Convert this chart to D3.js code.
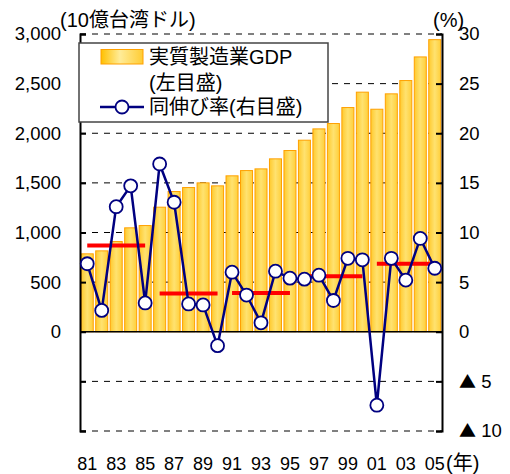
<html>
<meta charset="utf-8">
<style>
body { margin: 0; background: #fff; }
text { font-family: "Liberation Sans", "Noto Sans CJK JP", sans-serif; font-size: 18.5px; fill: #000; }
.big { font-size: 20px; }
.grid { stroke: #000; stroke-width: 1; stroke-dasharray: 6,6; }
.axis path, .axis line { stroke: #000; stroke-width: 2; }
</style>
<body>
<script src="https://d3js.org/d3.v7.min.js"></script>
<script>

// data
var years = ["81","82","83","84","85","86","87","88","89","90","91","92","93","94","95",
             "96","97","98","99","00","01","02","03","04","05"];
var gdp = [785, 815, 909, 1047, 1070, 1255, 1413, 1453, 1500, 1470, 1571, 1624, 1641, 1742, 1826,
           1930, 2044, 2098, 2259, 2414, 2242, 2397, 2531, 2769, 2943];
var growth = [6.85, 2.15, 12.6, 14.7, 2.9, 16.9, 13.05, 2.8, 2.7, -1.4, 6.0, 3.7, 0.9, 6.1, 5.4,
              5.3, 5.7, 3.15, 7.4, 7.25, -7.4, 7.4, 5.2, 9.4, 6.4];
// period averages (red bars)
var avgFrom = ["81", "86", "91", "96", "01"];
var avgTo   = ["85", "90", "95", "00", "05"];
var avgVal  = [8.7, 3.85, 3.9, 5.6, 6.85];

var leftTicks = [-1000, -500, 0, 500, 1000, 1500, 2000, 2500, 3000];
var rightTicks = [-10, -5, 0, 5, 10, 15, 20, 25, 30];
var xLabels = ["81","83","85","87","89","91","93","95","97","99","01","03","05"];

var W = 510, H = 474;
var pLeft = 80, pRight = 442, pTop = 34, pBottom = 431;

var svg = d3.select("body").append("svg")
    .attr("width", W)
    .attr("height", H);

var x = d3.scaleBand().domain(years).range([pLeft, pRight])
    .paddingInner(0.17).paddingOuter(0.085);
var yL = d3.scaleLinear().domain([-1000, 3000]).range([pBottom, pTop]);
var yR = d3.scaleLinear().domain([-10, 30]).range([pBottom, pTop]);

// gradients for the bars
var defs = svg.append("defs");
var g1 = defs.append("linearGradient").attr("id", "barGrad")
    .attr("x1", "0%").attr("x2", "100%").attr("y1", "0%").attr("y2", "0%");
g1.append("stop").attr("offset", "0%").attr("stop-color", "#ffca2e");
g1.append("stop").attr("offset", "50%").attr("stop-color", "#ffe270");
g1.append("stop").attr("offset", "100%").attr("stop-color", "#ffcf3a");
var g2 = defs.append("linearGradient").attr("id", "legGrad")
    .attr("x1", "0%").attr("x2", "100%").attr("y1", "0%").attr("y2", "0%");
g2.append("stop").attr("offset", "0%").attr("stop-color", "#ffc000");
g2.append("stop").attr("offset", "45%").attr("stop-color", "#ffec99");
g2.append("stop").attr("offset", "100%").attr("stop-color", "#ffcc33");

// dashed gridlines
svg.append("g").selectAll("line")
    .data(leftTicks.filter(function(d) { return d != 0; }))
  .enter().append("line")
    .attr("class", "grid")
    .attr("x1", pLeft).attr("x2", pRight)
    .attr("y1", function(d) { return yL(d); })
    .attr("y2", function(d) { return yL(d); });

// bars
svg.append("g").selectAll("rect")
    .data(gdp)
  .enter().append("rect")
    .attr("x", function(d, i) { return x(years[i]); })
    .attr("width", x.bandwidth())
    .attr("y", function(d) { return yL(d); })
    .attr("height", function(d) { return yL(0) - yL(d); })
    .style("fill", "url(#barGrad)")
    .style("stroke", "#ffa000")
    .style("stroke-width", 1);

// zero line
svg.append("line")
    .attr("x1", pLeft).attr("x2", pRight)
    .attr("y1", yL(0)).attr("y2", yL(0))
    .style("stroke", "#000").style("stroke-width", 1.5);

// left axis
svg.append("g")
    .attr("class", "axis")
    .attr("transform", "translate(" + pLeft + ",0)")
    .call(d3.axisLeft(yL).tickValues(leftTicks).tickSize(-6).tickPadding(19)
      .tickFormat(function(d) { return d < 0 ? "" : d3.format(",")(d); }))
    .call(function(g) { g.selectAll("text").style("font-size", null).style("font-family", null); });

// right axis, negatives shown with a triangle
svg.append("g")
    .attr("class", "axis")
    .attr("transform", "translate(" + pRight + ",0)")
    .call(d3.axisRight(yR).tickValues(rightTicks).tickSize(-6).tickPadding(17))
    .call(function(g) {
      g.selectAll("text").style("font-size", null).style("font-family", null)
        .each(function(d) {
          if (d < 0) {
            var t = d3.select(this).text("");
            t.append("tspan").style("font-family", "Noto Sans CJK JP").style("font-size", "17px").text("▲");
            t.append("tspan").text(" " + (-d));
          }
        });
    });

// x labels
svg.append("g")
    .attr("transform", "translate(0," + pBottom + ")")
    .call(d3.axisBottom(x).tickValues(xLabels).tickSize(0).tickPadding(26))
    .call(function(g) {
      g.select(".domain").remove();
      g.selectAll("text").style("font-size", "18px").style("font-family", null);
    });

// red average lines
svg.append("g").selectAll("line")
    .data(avgVal)
  .enter().append("line")
    .attr("x1", function(d, i) { return x(avgFrom[i]) + x.bandwidth() / 2; })
    .attr("x2", function(d, i) { return x(avgTo[i]) + x.bandwidth() / 2; })
    .attr("y1", function(d) { return yR(d); })
    .attr("y2", function(d) { return yR(d); })
    .style("stroke", "#ff0000")
    .style("stroke-width", 4);

// growth line
var line = d3.line()
    .x(function(d, i) { return x(years[i]) + x.bandwidth() / 2; })
    .y(function(d) { return yR(d); });

svg.append("path")
    .datum(growth)
    .attr("d", line)
    .style("fill", "none")
    .style("stroke", "#000080")
    .style("stroke-width", 2.5);

svg.append("g").selectAll("circle")
    .data(growth)
  .enter().append("circle")
    .attr("cx", function(d, i) { return x(years[i]) + x.bandwidth() / 2; })
    .attr("cy", function(d) { return yR(d); })
    .attr("r", 6.5)
    .style("fill", "#fff")
    .style("stroke", "#000080")
    .style("stroke-width", 1.8);

// unit labels
svg.append("text").attr("class", "big").attr("x", 60).attr("y", 27).text("(10億台湾ドル)");
svg.append("text").attr("class", "big").attr("x", 433).attr("y", 27).text("(%)");
svg.append("text").attr("class", "big").attr("x", 446).attr("y", 470).text("(年)");

// legend
var leg = svg.append("g");
leg.append("rect")
    .attr("x", 79).attr("y", 43).attr("width", 249).attr("height", 79)
    .style("fill", "#fff").style("stroke", "#444").style("stroke-width", 1.5);
leg.append("rect")
    .attr("x", 101).attr("y", 49.5).attr("width", 42).attr("height", 14.5)
    .style("fill", "url(#legGrad)").style("stroke", "#ffa000").style("stroke-width", 1);
leg.append("text").attr("class", "big").attr("x", 149).attr("y", 64).text("実質製造業GDP");
leg.append("text").attr("class", "big").attr("x", 149).attr("y", 90).text("(左目盛)");
leg.append("line")
    .attr("x1", 100).attr("x2", 144).attr("y1", 107).attr("y2", 107)
    .style("stroke", "#000080").style("stroke-width", 2.5);
leg.append("circle")
    .attr("cx", 122).attr("cy", 107).attr("r", 6.5)
    .style("fill", "#fff").style("stroke", "#000080").style("stroke-width", 1.8);
leg.append("text").attr("class", "big").attr("x", 149).attr("y", 114).text("同伸び率(右目盛)");

</script>
</body>
</html>
